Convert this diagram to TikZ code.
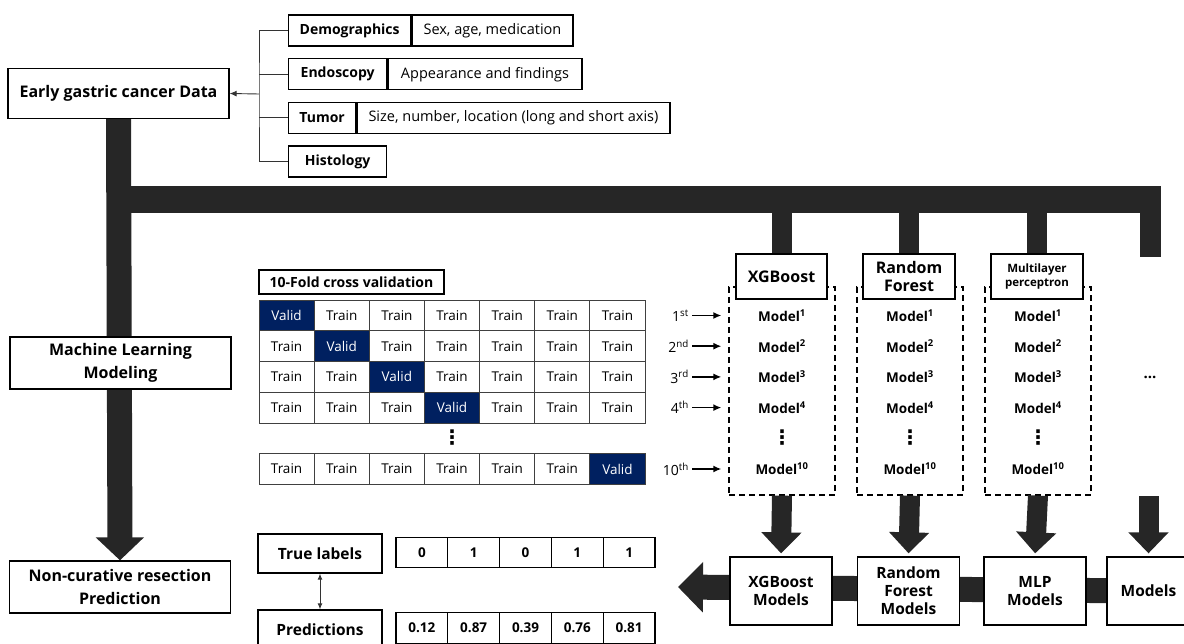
\documentclass[tikz,border=0pt]{standalone}
\usepackage{fontspec}
\setmainfont{Open Sans}
\newfontfamily\symfont{DejaVu Sans}
\usetikzlibrary{arrows.meta,positioning,calc,backgrounds}
\definecolor{validblue}{HTML}{002060}
\definecolor{busgray}{HTML}{262626}

\tikzset{
  outbox/.style={draw, line width=1.3pt, fill=white, align=center, inner sep=0pt},
  headbox/.style={outbox, minimum width=221, minimum height=50,
    font=\fontsize{16}{23}\selectfont\bfseries},
  catbox/.style={outbox, minimum height=31, font=\fontsize{14}{16}\selectfont\bfseries},
  descbox/.style={outbox, minimum height=31, font=\fontsize{14.5}{16}\selectfont},
  cell/.style={draw=black!75, line width=0.9pt, minimum width=55.15, minimum height=30.7,
    inner sep=0pt, font=\fontsize{13.5}{16}\selectfont},
  validcell/.style={cell, fill=validblue, text=white},
  algbox/.style={outbox, minimum width=91, minimum height=45,
    font=\fontsize{16}{18}\selectfont\bfseries},
  foldbox/.style={draw, dash pattern=on 6pt off 4pt, line width=1.3pt,
    minimum width=106, minimum height=208, inner sep=0pt},
  modeltxt/.style={inner sep=0pt, font=\fontsize{13.5}{16}\selectfont\bfseries},
  ordtxt/.style={inner sep=0pt, font=\fontsize{14}{16}\selectfont},
  vdotstxt/.style={inner sep=0pt, font=\fontsize{20}{20}\symfont\bfseries},
  resbox/.style={outbox, minimum width=102, minimum height=68,
    font=\fontsize{15.5}{18}\selectfont\bfseries},
  evalbox/.style={outbox, minimum width=124, minimum height=39,
    font=\fontsize{15.5}{16}\selectfont\bfseries},
  valcell/.style={outbox, minimum width=51.8, minimum height=30.5,
    font=\fontsize{13.5}{14}\selectfont\bfseries},
  bus/.style={draw=busgray, line width=27pt},
  drop/.style={draw=busgray, line width=20pt},
  thin link/.style={draw=black!80, line width=0.9pt},
}

\begin{document}
\begin{tikzpicture}[x=1pt, y=-1pt]
  \useasboundingbox (0,0) rectangle (1184,644);

  % data sources
  \node[headbox] (early) at (118.5,93.5) {Early gastric cancer Data};
  \node[catbox, minimum width=122, anchor=west] (demo) at (288,30.5) {Demographics};
  \node[descbox, minimum width=161, anchor=west] (demo-d) at (demo.east) {Sex, age, medication};
  \node[catbox, minimum width=98, anchor=west] (endo) at (288,74.2) {Endoscopy};
  \node[descbox, minimum width=194, anchor=west] (endo-d) at (endo.east) {Appearance and findings};
  \node[catbox, minimum width=67, anchor=west] (tumor) at (288,117.9) {Tumor};
  \node[descbox, minimum width=313, anchor=west] (tumor-d) at (tumor.east)
    {Size, number, location (long and short axis)};
  \node[catbox, minimum width=98, anchor=west] (histo) at (288,161.6) {Histology};

  \coordinate (tree) at (259,94);
  \draw[thin link] (demo.west) -| (tree) |- (histo.west);
  \draw[thin link] (endo.west) -- (endo.west -| tree);
  \draw[thin link] (tumor.west) -- (tumor.west -| tree);
  \draw[thin link, -{Latex[length=7pt,width=6pt]}] (tree) -- (early.east);

  % left column
  \node[headbox, minimum height=52] (mlm) at (120.5,363) {Machine Learning\\Modeling};
  \node[headbox, minimum height=52] (ncr) at (120,587) {Non-curative resection\\Prediction};

  % 10-fold cross validation grid
  \node[outbox, minimum width=185, minimum height=24,
        font=\fontsize{14}{15}\selectfont\bfseries] (cvlabel) at (351.5,282) {10-Fold cross validation};
  \foreach \r/\y/\v in {1/315.5/1, 2/346.2/2, 3/376.9/3, 4/407.6/4, 10/469/7} {
    \foreach \c in {1,...,7} {
      \ifnum\c=\v
        \node[validcell] (cell-\r-\c) at ({259+55.15*(\c-0.5)},\y) {Valid};
      \else
        \node[cell] (cell-\r-\c) at ({259+55.15*(\c-0.5)},\y) {Train};
      \fi
    }
  }
  \node[vdotstxt] (cv-dots) at (cell-4-4 |- 0,438) {⋮};

  % algorithms
  \foreach \a/\x in {xgb/782, rf/910, mlp/1038}
    \node[foldbox] (\a-fold) at (\x,391) {};
  \node[algbox] (xgb) at (781.5,276.5) {XGBoost};
  \node[algbox, minimum width=92] (rf) at (909,276.5) {Random\\Forest};
  \node[algbox, minimum width=92, font=\fontsize{11.5}{14}\selectfont\bfseries] (mlp)
    at (1037,276.5) {Multilayer\\perceptron};

  \foreach \a/\x in {xgb/782, rf/910, mlp/1038} {
    \foreach \r/\y in {1/315.5, 2/346.2, 3/376.9, 4/407.6, 10/469}
      \node[modeltxt] (\a-m\r) at (\x,\y) {Model\textsuperscript{\r}};
    \node[vdotstxt] (\a-dots) at (\x,438) {⋮};
  }
  \node[modeltxt, font=\fontsize{15}{16}\selectfont\bfseries] (more) at (1150,377) {...};

  % fold ordinals
  \foreach \r/\y/\s in {1/315.5/st, 2/346.2/nd, 3/376.9/rd, 4/407.6/th, 10/469/th} {
    \node[ordtxt, anchor=east] (ord-\r) at (689,\y) {\r\textsuperscript{\s}};
    \draw[line width=1.5pt, -{Latex[length=8pt,width=7pt]}, shorten <=3pt, shorten >=7pt]
      (ord-\r.east) -- (ord-\r.east -| xgb-fold.west);
  }

  % trained model sets
  \node[resbox] (xgb-res) at (781,591) {XGBoost\\Models};
  \node[resbox] (rf-res) at (908.5,591) {Random\\Forest\\Models};
  \node[resbox] (mlp-res) at (1035,591) {MLP\\Models};
  \node[resbox, minimum width=83] (all-res) at (1148.5,591) {Models};

  % evaluation
  \node[evalbox] (truelab) at (320,553.5) {True labels};
  \node[evalbox] (predlab) at (320,629.5) {Predictions};
  \foreach \v [count=\i] in {0,1,0,1,1}
    \node[valcell] (tv-\i) at ({396+51.8*(\i-0.5)},552.5) {\v};
  \foreach \v [count=\i] in {0.12,0.87,0.39,0.76,0.81}
    \node[valcell] (pv-\i) at ({396+51.8*(\i-0.5)},628) {\v};
  \draw[thin link, {Latex[length=6pt,width=5pt]}-{Latex[length=6pt,width=5pt]}]
    (truelab.south) -- (predlab.north);

  % thick flow
  \coordinate (bus-r) at (1161,199.5);
  \coordinate (more-top) at (1150.5,257);
  \coordinate (more-bot) at (1148.5,496);
  \coordinate (out-tip) at (678,587);
  \begin{scope}[on background layer]
    \draw[bus, line width=25pt, -{Triangle[width=47pt,length=23pt]}] (early.south) -- (ncr.north);
    \draw[bus] (early.south |- bus-r) -- (bus-r);
    \draw[drop, line width=21pt] (more-top |- bus-r) -- (more-top);
    \foreach \a in {xgb, rf, mlp}
      \draw[drop] (\a.north |- bus-r) -- (\a.north);
    \draw[drop, line width=25pt, -{Triangle[width=49pt,length=25pt]}] (all-res.center) -- (out-tip);
  \end{scope}
  \foreach \a in {xgb, rf, mlp}
    \draw[drop, -{Triangle[width=39pt,length=21pt]}, shorten >=3pt] (\a-fold.south) -- (\a-res.north);
  \draw[drop, -{Triangle[width=39pt,length=21pt]}, shorten >=3pt] (more-bot) -- (all-res.north);
\end{tikzpicture}
\end{document}
